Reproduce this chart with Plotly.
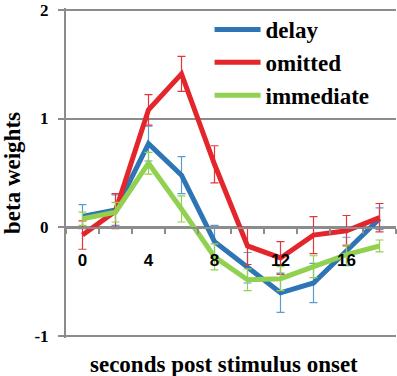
import plotly.graph_objects as go

# ---- data ----
times = [0, 2, 4, 6, 8, 10, 12, 14, 16, 18]
delay = [0.10, 0.16, 0.77, 0.48, -0.13, -0.37, -0.60, -0.51, -0.22, 0.08]
delay_err = [0.11, 0.14, 0.16, 0.17, 0.15, 0.14, 0.18, 0.18, 0.13, 0.10]
omitted = [-0.07, 0.15, 1.08, 1.41, 0.58, -0.17, -0.28, -0.07, -0.03, 0.09]
omitted_err = [0.13, 0.16, 0.14, 0.16, 0.17, 0.17, 0.15, 0.17, 0.14, 0.13]
immediate = [0.08, 0.14, 0.59, 0.17, -0.27, -0.48, -0.47, -0.36, -0.25, -0.17]
immediate_err = [0.06, 0.09, 0.10, 0.12, 0.12, 0.10, 0.11, 0.10, 0.09, 0.055]

x_tick_vals = [0, 4, 8, 12, 16]
x_tick_text = ["0", "4", "8", "12", "16"]
y_tick_vals = [-1, 0, 1, 2]
y_tick_text = ["-1", "0", "1", "2"]

series = [
    ("delay", delay, delay_err, "#2E75B6", "#5B9BD5"),
    ("omitted", omitted, omitted_err, "#E3262B", "#E3363B"),
    ("immediate", immediate, immediate_err, "#92D050", "#92D050"),
]

GRAY = "#8C8C8C"
SERIF = "Liberation Serif"

fig = go.Figure()
for i, (name, vals, errs, col, ecol) in enumerate(series):
    fig.add_trace(go.Scatter(
        x=times, y=vals, name=name, mode="lines",
        line=dict(color=col, width=5),
        error_y=dict(type="data", array=errs, visible=True,
                     color=ecol, thickness=1.2, width=4),
        legendgroup=name,
    ))

fig.update_layout(
    width=397, height=376,
    margin=dict(l=66, r=1, t=8, b=38, autoexpand=False),
    paper_bgcolor="white", plot_bgcolor="white",
    showlegend=True,
    legend=dict(
        x=0.435, y=1.0, xanchor="left", yanchor="top",
        font=dict(family=SERIF, size=23, color="black", weight="bold"),
        bgcolor="rgba(0,0,0,0)", borderwidth=0,
        tracegroupgap=0, itemwidth=46,
    ),
    xaxis=dict(
        range=[-1, 19], showgrid=False, zeroline=False, automargin=False,
        showline=True, linecolor=GRAY, linewidth=2,
        anchor="free", position=1/3,
        tickmode="array", tickvals=x_tick_vals, ticktext=x_tick_text,
        ticks="", ticklabelstandoff=17,
        tickfont=dict(family="Liberation Sans", size=17, color="black", weight="bold"),
        minor=dict(tick0=-1, dtick=2, ticks="outside", ticklen=5,
                   tickcolor=GRAY, tickwidth=2, showgrid=False),
    ),
    yaxis=dict(
        range=[-1.015, 2.015], showgrid=True, gridcolor=GRAY, gridwidth=1.5,
        zeroline=False, showline=True, linecolor=GRAY, linewidth=2,
        automargin=False, ticklabeloverflow="allow",
        tickmode="array", tickvals=y_tick_vals, ticktext=y_tick_text,
        ticks="outside", ticklen=6, tickcolor=GRAY, tickwidth=1.5,
        ticklabelstandoff=6,
        tickfont=dict(family=SERIF, size=17, color="black", weight="bold"),
        title=dict(text="beta weights", standoff=8,
                   font=dict(family=SERIF, size=23, color="black", weight="bold")),
    ),
)

fig.add_annotation(
    text="seconds post stimulus onset", xref="paper", yref="paper",
    x=0.48, y=-0.08, xanchor="center", yanchor="middle", showarrow=False,
    font=dict(family=SERIF, size=23, color="black", weight="bold"),
)

fig.write_html("out.html", config={"displayModeBar": False},
               post_script="document.body.style.margin='0px';")
